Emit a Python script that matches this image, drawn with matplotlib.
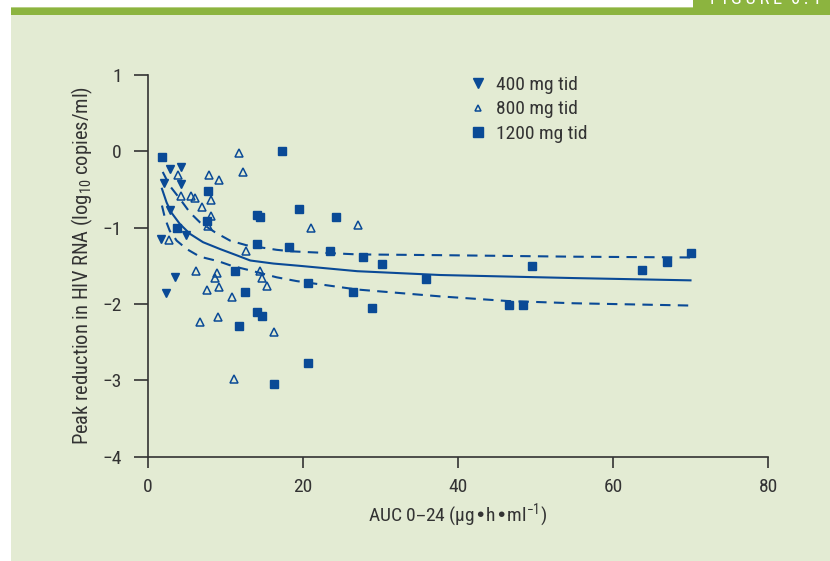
import matplotlib
matplotlib.use("Agg")
import matplotlib.pyplot as plt
from matplotlib.lines import Line2D
from matplotlib.patches import Rectangle

# ---------------- data ----------------
x_400 = [2.9, 4.2, 2.1, 4.2, 2.9, 1.7, 4.9, 3.5, 2.3]
y_400 = [-0.23, -0.21, -0.42, -0.43, -0.77, -1.15, -1.10, -1.65, -1.85]

x_800 = [3.9, 11.7, 7.9, 9.2, 12.3, 4.2, 5.5, 6.0, 8.1, 7.0, 8.1, 7.8, 2.75,
         12.7, 6.2, 8.9, 8.6, 14.4, 14.75, 15.3, 7.6, 9.1, 10.9, 9.0, 6.7,
         16.3, 11.05, 21.0, 27.1]
y_800 = [-0.31, -0.02, -0.31, -0.37, -0.27, -0.59, -0.58, -0.61, -0.64, -0.73,
         -0.85, -0.98, -1.16, -1.30, -1.57, -1.60, -1.66, -1.57, -1.66, -1.77,
         -1.81, -1.78, -1.91, -2.17, -2.24, -2.37, -2.98, -1.01, -0.96]

x_1200 = [1.85, 17.3, 7.8, 14.1, 14.5, 19.5, 7.65, 3.8, 14.1, 18.2, 11.2, 12.55,
          14.1, 14.75, 11.8, 16.2, 24.3, 23.5, 27.8, 30.2, 35.9, 20.7, 26.5,
          28.9, 20.6, 49.6, 46.6, 48.4, 63.7, 67.0, 70.1]
y_1200 = [-0.07, 0.0, -0.52, -0.84, -0.86, -0.75, -0.91, -1.01, -1.21, -1.25,
          -1.57, -1.84, -2.10, -2.16, -2.29, -3.05, -0.86, -1.30, -1.38, -1.47,
          -1.67, -1.72, -1.84, -2.05, -2.77, -1.50, -2.01, -2.01, -1.55, -1.45,
          -1.33]

fit_x = [1.8, 2.4, 3.0, 4.1, 5.4, 7.1, 9.3, 11.4, 13.2, 16.2, 19.6, 27.0, 37.7, 54.9, 70.0]
fit_y = [-0.49, -0.67, -0.80, -0.95, -1.08, -1.19, -1.28, -1.36, -1.43, -1.47,
         -1.50, -1.57, -1.62, -1.66, -1.69]

upper_x = [1.9, 2.8, 4.1, 5.4, 6.7, 8.65, 10.6, 12.7, 16.6, 18.5, 27.0, 37.7, 54.9, 70.0]
upper_y = [-0.27, -0.45, -0.62, -0.80, -0.93, -1.06, -1.17, -1.23, -1.29, -1.31,
           -1.35, -1.36, -1.38, -1.39]

lower_x = [1.8, 2.2, 2.8, 3.7, 5.0, 6.7, 9.1, 10.8, 13.2, 16.6, 19.2, 27.0, 37.7,
           46.3, 54.9, 70.0]
lower_y = [-0.71, -0.88, -1.04, -1.17, -1.28, -1.38, -1.44, -1.50, -1.56, -1.65,
           -1.70, -1.81, -1.90, -1.96, -1.99, -2.02]

labels = ["400 mg tid", "800 mg tid", "1200 mg tid"]
x_ticks = [0, 20, 40, 60, 80]
y_ticks = [1, 0, -1, -2, -3, -4]

# ---------------- style ----------------
plt.rcParams['font.family'] = ['Roboto Condensed', 'Fira Sans Condensed',
                               'Archivo Narrow', 'DejaVu Sans']
plt.rcParams['mathtext.default'] = 'regular'
TXT = '#333333'
BLUE = '#0a4a96'
BG = '#e3ebd3'
GREEN = '#8cb43f'
FS = 14

W, H = 830, 561
fig = plt.figure(figsize=(W / 100, H / 100), dpi=100)
fig.patch.set_facecolor('white')

def fx(px):
    return px / W

def fy(py):
    return 1 - py / H

# panel & header bar
for (x0, y0, w, h, c) in [
        (11, 15, W - 11, H - 15, BG),
        (11, 7, W - 11, 8, GREEN),
        (11, 7, W - 11, 1.2, '#b7cf86'),
        (693, 0, W - 693, 15, GREEN)]:
    fig.patches.append(Rectangle((fx(x0), fy(y0 + h)), w / W, h / H,
                                 transform=fig.transFigure, facecolor=c,
                                 edgecolor='none', zorder=-10))
fig.text(fx(710), fy(4), "F\u2009I\u2009G\u2009U\u2009R\u2009E  6\u2009.\u20091",
         color='white', fontsize=13.5, ha='left', va='baseline', zorder=-5)

ax = fig.add_axes([fx(148), fy(456.7), fx(768) - fx(148), (456.7 - 75) / H])
ax.set_facecolor('none')
ax.set_zorder(2)

ax.plot(fit_x, fit_y, color=BLUE, lw=1.5, zorder=2)
ax.plot(upper_x, upper_y, color=BLUE, lw=1.5, dashes=(5, 3.5), zorder=2)
ax.plot(lower_x, lower_y, color=BLUE, lw=1.5, dashes=(5, 3.5), zorder=2)

ax.plot(x_400, y_400, linestyle='none', marker='v', ms=5.4, color=BLUE,
        mec=BLUE, zorder=3)
ax.plot(x_800, y_800, linestyle='none', marker='^', ms=5.6, mfc='none',
        mec=BLUE, mew=1.1, zorder=3)
ax.plot(x_1200, y_1200, linestyle='none', marker='s', ms=5.3, color=BLUE,
        mec=BLUE, zorder=3)

ax.set_xlim(0, 80)
ax.set_ylim(-4, 1)
ax.set_xticks(x_ticks)
ax.set_yticks(y_ticks)
ax.set_xticklabels([str(v) for v in x_ticks])
ax.set_yticklabels([str(v).replace('-', '\u2212') for v in y_ticks])

for s in ['top', 'right']:
    ax.spines[s].set_visible(False)
for s in ['left', 'bottom']:
    ax.spines[s].set_color(TXT)
    ax.spines[s].set_linewidth(1.2)

ax.tick_params(axis='y', direction='out', length=10, width=1.2, color=TXT,
               labelsize=FS, labelcolor=TXT, pad=9)
ax.tick_params(axis='x', direction='out', length=8, width=1.2, color=TXT,
               labelsize=FS, labelcolor=TXT, pad=7.5)

ax.set_xlabel("AUC 0\u201324 (\u00b5g\u2022h\u2022ml$^{\u22121}$)", fontsize=FS,
              color=TXT, labelpad=4)
ax.set_ylabel("Peak reduction in HIV RNA (log$_{10}$ copies/ml)", fontsize=14.8,
              color=TXT, labelpad=5)

handles = [
    Line2D([], [], linestyle='none', marker='v', ms=6.5, color=BLUE),
    Line2D([], [], linestyle='none', marker='^', ms=5.0, mfc='none', mec=BLUE, mew=1.1),
    Line2D([], [], linestyle='none', marker='s', ms=7.5, color=BLUE),
]
leg = ax.legend(handles, labels, loc='upper left', bbox_to_anchor=(fx(468), fy(76)),
                bbox_transform=fig.transFigure, frameon=False, borderpad=0,
                borderaxespad=0, handlelength=1.0, handletextpad=0.42,
                labelspacing=0.33, fontsize=FS)
for t in leg.get_texts():
    t.set_color(TXT)

fig.savefig("out.png", dpi=100, facecolor='white')
